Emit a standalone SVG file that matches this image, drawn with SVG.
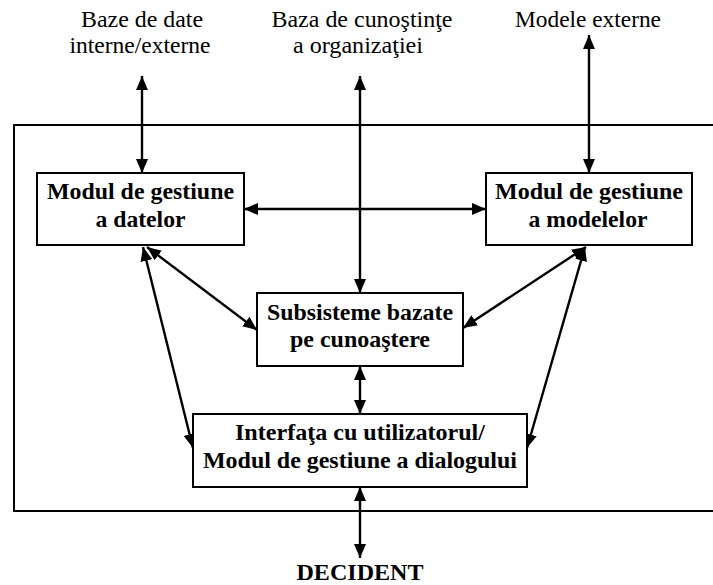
<svg xmlns="http://www.w3.org/2000/svg" width="713" height="585" viewBox="0 0 713 585">
  <defs>
    <style>
      text { font-family: "Liberation Serif", "Tinos", "Times New Roman", serif; fill: #000; text-anchor: middle; }
      .lbl { font-size: 24px; }
      .bold { font-size: 24px; font-weight: bold; }
      .box { fill: #fff; stroke: #000; stroke-width: 2; }
      .frame { fill: none; stroke: #000; stroke-width: 2; }
      .link { fill: none; stroke: #000; stroke-width: 2.4; marker-start: url(#head); marker-end: url(#head); }
    </style>
    <marker id="head" viewBox="0 0 14 12" refX="14" refY="6" markerWidth="14" markerHeight="12" markerUnits="userSpaceOnUse" orient="auto-start-reverse">
      <path d="M0,0 L14,6 L0,12 Z" fill="#000"/>
    </marker>
  </defs>
  <rect width="713" height="585" fill="#fff"/>

  <!-- system boundary, open past the right edge -->
  <rect class="frame" x="14" y="125" width="720" height="386"/>

  <!-- external sources -->
  <g id="ext-date">
    <text class="lbl" x="142" y="27" textLength="122" lengthAdjust="spacingAndGlyphs">Baze de date</text>
    <text class="lbl" x="140" y="53" textLength="141" lengthAdjust="spacingAndGlyphs">interne/externe</text>
  </g>
  <g id="ext-cunostinte">
    <text class="lbl" x="362" y="27" textLength="181" lengthAdjust="spacingAndGlyphs">Baza de cunoştinţe</text>
    <text class="lbl" x="358" y="53" textLength="130" lengthAdjust="spacingAndGlyphs">a organizaţiei</text>
  </g>
  <g id="ext-modele">
    <text class="lbl" x="588" y="27" textLength="146" lengthAdjust="spacingAndGlyphs">Modele externe</text>
  </g>

  <!-- connectors -->
  <g id="connectors">
    <line class="link" x1="142" y1="76" x2="142" y2="173"/>
    <line class="link" x1="360" y1="76" x2="360" y2="293"/>
    <line class="link" x1="589" y1="35" x2="589" y2="173"/>
    <line class="link" x1="244" y1="209" x2="486" y2="209"/>
    <line class="link" x1="147" y1="247" x2="257" y2="330"/>
    <line class="link" x1="143" y1="247" x2="193" y2="448"/>
    <line class="link" x1="586" y1="247" x2="463" y2="328"/>
    <line class="link" x1="585" y1="247" x2="527" y2="448"/>
    <line class="link" x1="360" y1="366" x2="360" y2="414"/>
    <line class="link" x1="360" y1="487" x2="360" y2="558"/>
  </g>

  <!-- modules -->
  <g id="modul-date">
    <rect class="box" x="37" y="173" width="207" height="72"/>
    <text class="bold" x="140.5" y="199" textLength="187" lengthAdjust="spacingAndGlyphs">Modul de gestiune</text>
    <text class="bold" x="140.5" y="227" textLength="90" lengthAdjust="spacingAndGlyphs">a datelor</text>
  </g>
  <g id="modul-modele">
    <rect class="box" x="486" y="173" width="206" height="72"/>
    <text class="bold" x="589" y="199" textLength="188" lengthAdjust="spacingAndGlyphs">Modul de gestiune</text>
    <text class="bold" x="588" y="227" textLength="119" lengthAdjust="spacingAndGlyphs">a modelelor</text>
  </g>
  <g id="subsisteme">
    <rect class="box" x="257" y="293" width="206" height="73"/>
    <text class="bold" x="360" y="320" textLength="186" lengthAdjust="spacingAndGlyphs">Subsisteme bazate</text>
    <text class="bold" x="360" y="347" textLength="140" lengthAdjust="spacingAndGlyphs">pe cunoaştere</text>
  </g>
  <g id="interfata">
    <rect class="box" x="193" y="414" width="334" height="73"/>
    <text class="bold" x="360" y="440" textLength="250" lengthAdjust="spacingAndGlyphs">Interfaţa cu utilizatorul/</text>
    <text class="bold" x="360" y="468" textLength="314" lengthAdjust="spacingAndGlyphs">Modul de gestiune a dialogului</text>
  </g>
  <g id="decident">
    <text class="bold" x="360" y="580" textLength="127" lengthAdjust="spacingAndGlyphs">DECIDENT</text>
  </g>
</svg>
